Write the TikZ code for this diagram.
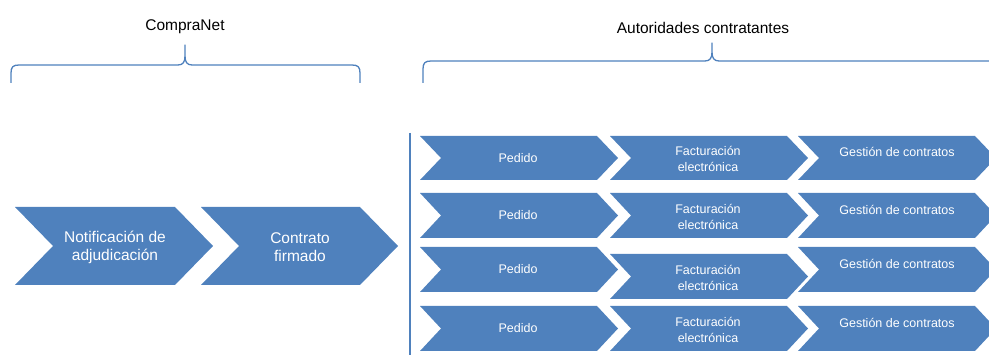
\documentclass[tikz,border=0pt]{standalone}
\usepackage{fontspec}
\setmainfont{Liberation Sans}
\definecolor{procblue}{HTML}{4F81BD}

% filled chevron: left x, top y, top edge length, height, point depth
\newcommand\chevshape[5]{%
  \fill[procblue] (#1,#2) -- ({#1+#3},#2) -- ({#1+#3+#5},{#2+#4/2})
    -- ({#1+#3},{#2+#4}) -- (#1,{#2+#4}) -- ({#1+#5},{#2+#4/2}) -- cycle;}

% horizontal curly brace: left x, tip x, right x, line y, tip y, end y
\newcommand\topbrace[6]{%
  \draw[bracestyle] (#1,#6) -- (#1,{#4+8}) .. controls (#1,{#4+2}) and ({#1+2},#4) .. ({#1+8},#4)
    -- ({#2-7},#4) .. controls ({#2-2},#4) and (#2,{#4-3}) .. (#2,{#4-9}) -- (#2,#5)
    -- (#2,{#4-9}) .. controls (#2,{#4-3}) and ({#2+2},#4) .. ({#2+7},#4)
    -- ({#3-8},#4) .. controls ({#3-2},#4) and (#3,{#4+2}) .. (#3,{#4+8}) -- (#3,#6);}

\begin{document}
\begin{tikzpicture}[x=1pt,y=-1pt,
  bracestyle/.style={draw=procblue,line width=1.3pt,line join=round},
  head/.style={font=\fontsize{15.5}{18}\selectfont,text=black,inner sep=0pt},
  bigtxt/.style={font=\fontsize{15.5}{18}\selectfont,text=white,align=center,inner sep=0pt},
  smalltxt/.style={font=\fontsize{12.5}{16}\selectfont,text=white,align=center,inner sep=0pt}]
\useasboundingbox (0,0) rectangle (989,355);

% group headings and braces
\node[head,anchor=base] (compranet) at (185,31) {CompraNet};
\node[head,anchor=base] (autoridades) at (703,34) {Autoridades contratantes};
\topbrace{11}{185}{360}{65}{45}{83}
\topbrace{423}{712}{1001}{61}{43}{83}

% CompraNet stages
\chevshape{15}{207}{160}{78}{38}
\chevshape{201}{207}{159}{78}{38}
\node[bigtxt] (notif) at (115,247) {Notificación de\\adjudicación};
\node[bigtxt] (contrato) at (300,247) {Contrato\\firmado};

% divider
\draw[procblue,line width=1.2pt] (410,133) -- (410,355);

% contracting authorities: four parallel process lines
\foreach \r/\ta/\tb/\tc/\h in {1/136/136/136/44, 2/193/193/193/45, 3/247/254/247/45, 4/306/306/306/45}{
  \chevshape{420}{\ta}{177}{\h}{21}
  \chevshape{610}{\tb}{177}{\h}{21}
  \chevshape{798}{\tc}{177}{\h}{21}
  \node[smalltxt] (pedido\r) at (518,{\ta+\h/2}) {Pedido};
  \node[smalltxt] (factura\r) at (708,{\tb+\h/2+1}) {Facturación\\electrónica};
  \node[smalltxt] (gestion\r) at (897,{\tc+\h/2-6}) {Gestión de contratos};
}
\end{tikzpicture}
\end{document}
